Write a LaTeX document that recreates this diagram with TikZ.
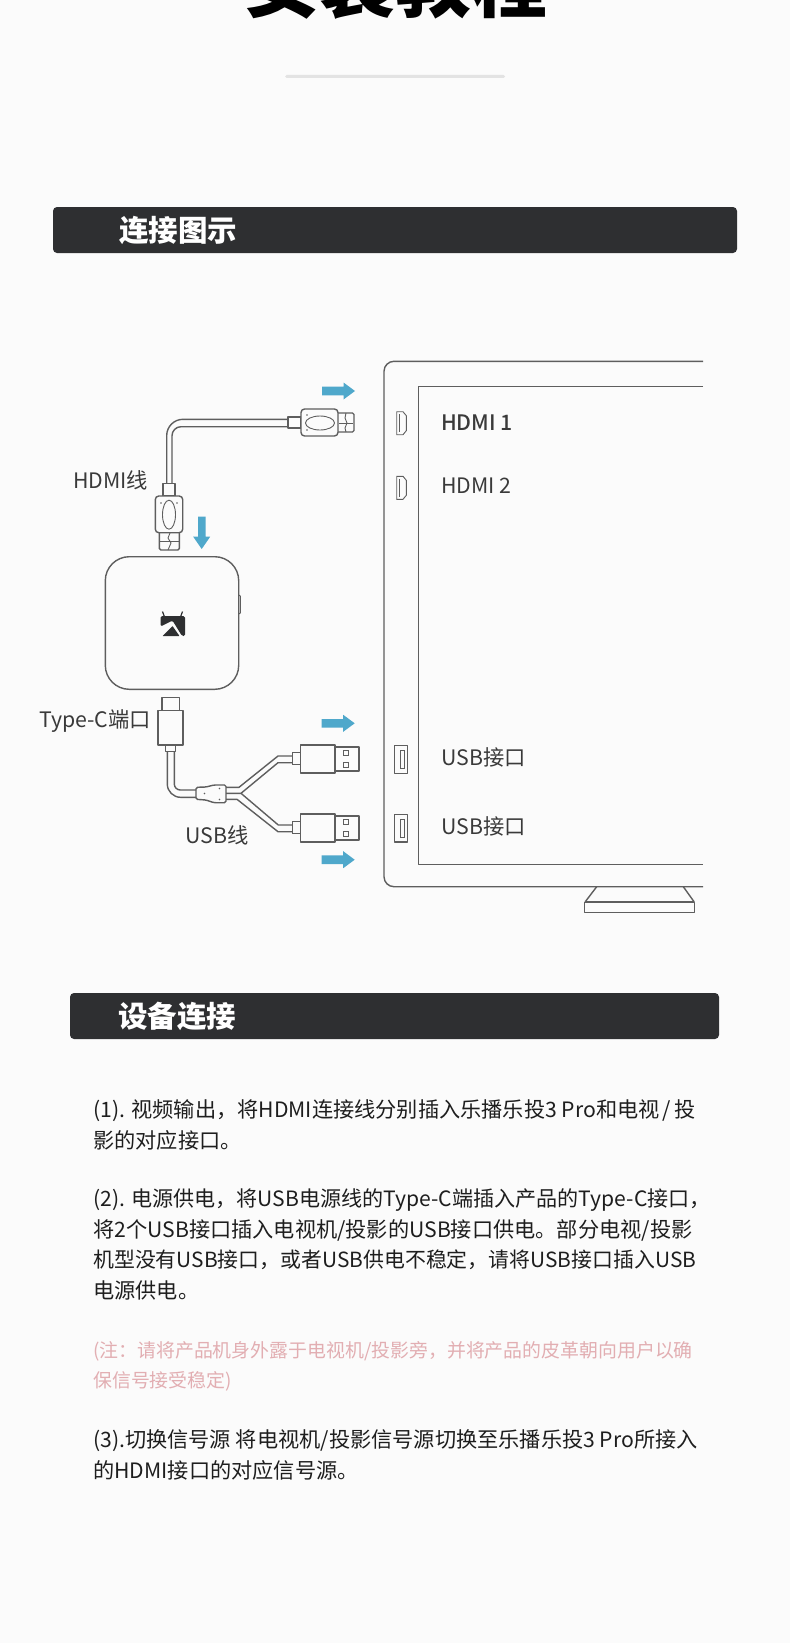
\documentclass[tikz,border=0pt]{standalone}
\usepackage{fontspec}
\setmainfont{Noto Sans CJK SC}
\newfontfamily\blk{Noto Sans CJK SC Black}
\newfontfamily\med{Noto Sans CJK SC Medium}
\definecolor{bgc}{HTML}{FBFBFB}
\definecolor{barc}{HTML}{2E2F31}
\definecolor{ln}{HTML}{5E5E5E}
\definecolor{txt}{HTML}{3A3A3A}
\definecolor{body}{HTML}{1E1E1E}
\definecolor{blu}{HTML}{4FA8CB}
\definecolor{pinkc}{HTML}{E2AEB2}
\definecolor{rulec}{HTML}{E3E3E3}
\newcommand{\fs}[1]{\fontsize{#1pt}{#1pt}\selectfont}
\tikzset{x=1pt,y=-1pt,
  wire/.style={draw=ln,line width=1.4pt,line join=round},
  thin wire/.style={draw=ln,line width=0.9pt},
  lab/.style={anchor=west,inner sep=0,text=txt,font=\fs{21.3}},
  para/.style={anchor=west,inner sep=0,text=body,font=\fs{21.2}},
  note/.style={anchor=west,inner sep=0,text=pinkc,font=\fs{18.9}},
  bar/.style={fill=barc,rounded corners=4pt,draw=none},
  flow/.style={fill=blu,draw=none}}
\newcommand{\arrowR}[2]{\fill[flow] (#1,#2-4.3)--(#1+21.5,#2-4.3)--(#1+21.5,#2-8.5)--(#1+33,#2)--(#1+21.5,#2+8.5)--(#1+21.5,#2+4.3)--(#1,#2+4.3)--cycle;}
\newcommand{\usbplug}[1]{%
  \draw[thin wire,fill=bgc] (292.7,#1-11.5) rectangle (300.7,#1);
  \draw[wire] (335,#1-17) rectangle (359,#1+7);
  \draw[wire,fill=bgc] (300.7,#1-19) rectangle (335,#1+9);
  \draw[thin wire] (343.5,#1-14) rectangle (348.5,#1-9);
  \draw[thin wire] (343.5,#1-2) rectangle (348.5,#1+3);}
\newcommand{\hdmiport}[1]{%
  \draw[thin wire] (396.7,#1) -- (403,#1) -- (406.3,#1+4) -- (406.3,#1+19) -- (403,#1+23) -- (396.7,#1+23) -- cycle;
  \draw[thin wire] (399.5,#1+2.5) -- (399.5,#1+20.5);}
\newcommand{\usbport}[1]{%
  \draw[wire] (394.7,#1) rectangle (407.7,#1+27.5);
  \draw[thin wire] (400,#1+5) rectangle (404.7,#1+23);}
\begin{document}
\begin{tikzpicture}
\useasboundingbox (0,0) rectangle (790,1643);
\clip (0,0) rectangle (790,1643);
\fill[bgc] (0,0) rectangle (790,1643);
% title
\node[anchor=center,inner sep=0,text=black] (title) at (395,-17) {\blk\fs{76}安装教程};
\fill[rulec,rounded corners=1.5pt] (285,75) rectangle (505,78);
% bars
\fill[bar] (53,207) rectangle (737,253);
\node[anchor=west,inner sep=0,text=white,font=\bfseries\fs{29.5}] (h1) at (119,230) {连接图示};
\fill[bar] (70,993) rectangle (719,1039);
\node[anchor=west,inner sep=0,text=white,font=\bfseries\fs{29.5}] (h2) at (118,1016) {设备连接};
% arrows
\arrowR{322}{391}
\arrowR{321.7}{723.3}
\arrowR{321.7}{859.7}
\fill[flow] (198,516.7)--(205.5,516.7)--(205.5,536.7)--(210.2,536.7)--(201.7,549)--(193.2,536.7)--(198,536.7)--cycle;
% HDMI cable
\draw[wire] (288,419.3) -- (183,419.3) arc[start angle=270,end angle=180,radius=16.3] -- (166.7,483.7);
\draw[wire] (288,426.7) -- (181,426.7) arc[start angle=270,end angle=180,radius=9] -- (172,483.7);
\draw[wire,fill=bgc] (288,417) rectangle (301,428);
\draw[wire,rounded corners=1.5pt] (338,413) -- (354,413) -- (354,432) -- (338,432);
\draw[wire,fill=bgc,rounded corners=3.5pt] (301,409) rectangle (338,436);
\draw[thin wire] (320,423) ellipse[x radius=14.5,y radius=7];
\draw[thin wire] (346,413) -- (345,418) -- (347,423) -- (345,428) -- (346,432);
\draw[thin wire] (339,423) -- (353,423);
\fill[ln] (307,415) circle(.8) (307,430) circle(.8);
% HDMI lower plug
\draw[wire,fill=bgc] (163,483.7) rectangle (175,496);
\draw[wire,rounded corners=1.5pt] (159.3,532.7) -- (159.3,550) -- (179.3,550) -- (179.3,532.7);
\draw[wire,fill=bgc,rounded corners=3.5pt] (155.3,496) rectangle (182.7,532.7);
\draw[thin wire] (169,514.7) ellipse[x radius=6.5,y radius=14.5];
\draw[thin wire] (170,533) -- (168,538) -- (171,543) -- (168,550);
\draw[thin wire] (160,541) -- (179,541);
\fill[ln] (161,503) circle(.8) (177,503) circle(.8);
% box
\draw[wire,rounded corners=24pt] (105.3,556.7) rectangle (238.7,689.3);
\draw[thin wire] (238.7,595) -- (240.3,596) -- (240.3,613) -- (238.7,614);
% logo
\draw[barc,line width=1.2pt] (164.5,617) -- (162.5,611.5) (180.5,617) -- (182.5,611.5);
\fill[barc,rounded corners=1.5pt] (160.5,626.5) -- (160.5,616) -- (185,616) -- (185,636) -- (182,636) -- (172.5,620.5) -- cycle;
\fill[barc,rounded corners=.5pt] (172.5,626) -- (179.5,636) -- (162.5,636) -- cycle;
% Type-C
\draw[wire] (162,697.3) rectangle (179.3,710.7);
\draw[wire] (158,710.7) rectangle (183,745);
\draw[wire] (165.7,745) rectangle (175.3,751.7);
\draw[wire] (167.3,751.7) -- (167.3,784) arc[start angle=180,end angle=90,radius=13.3] -- (196,797.3);
\draw[wire] (174.3,751.7) -- (174.3,784) arc[start angle=180,end angle=90,radius=6] -- (196,790);
% junction
\draw[wire,rounded corners=1.5pt] (196,787.3) -- (206,787) -- (214,785) -- (226,785) -- (226,802.7) -- (214,802.7) -- (206,800) -- (196,799.3) -- cycle;
\fill[ln] (204.5,793.5) circle(.9) (219.5,788.5) circle(.9) (219.5,799.5) circle(.9);
% branches
\draw[wire] (226,787.3) -- (239,787.3) -- (278,756) -- (292.7,756);
\draw[wire] (226,793.3) -- (241,793.3) -- (278,762.7) -- (292.7,762.7);
\draw[wire] (241,793.3) -- (278.3,825) -- (292.7,825);
\draw[wire] (226,799.3) -- (237,799.3) -- (278,831.7) -- (292.7,831.7);
\usbplug{764}
\usbplug{833}
% monitor
\draw[wire,rounded corners=10pt] (703,361.3) -- (384,361.3) -- (384,886.7) -- (703,886.7);
\draw[wire] (703,386.3) -- (418.3,386.3) -- (418.3,864.7) -- (703,864.7);
\draw[wire] (596.7,886.7) -- (585.3,901.7) -- (694,901.7) -- (683.3,886.7);
\draw[wire] (584.7,902.3) rectangle (694.7,912.3);
\hdmiport{411.7}
\hdmiport{476.3}
\usbport{745.7}
\usbport{814.3}
% labels
\node[lab,font=\med\fs{21.3}] (l1) at (441,423) {HDMI 1};
\node[lab] (l2) at (441,486) {HDMI 2};
\node[lab] (l3) at (441,757) {USB接口};
\node[lab] (l4) at (441,826) {USB接口};
\node[lab] (l5) at (73,480) {HDMI线};
\node[lab] (l6) at (39,721.5) {Type-C端口};
\node[lab] (l7) at (185,835) {USB线};
% body
\node[para] (p1) at (93,1110.5) {(1). 视频输出，将HDMI连接线分别插入乐播乐投3 Pro和电视\kern3pt/\kern3pt 投};
\node[para] (p2) at (93,1140) {影的对应接口。};
\node[para,font=\fs{21.1}] (p3) at (93,1200.5) {(2). 电源供电，将USB电源线的Type-C端插入产品的Type-C接口，};
\node[para] (p4) at (93,1230.5) {将2个USB接口插入电视机/投影的USB接口供电。部分电视/投影};
\node[para,font=\fs{20.9}] (p5) at (93,1260) {机型没有USB接口，或者USB供电不稳定，请将USB接口插入USB};
\node[para] (p6) at (93,1290) {电源供电。};
\node[note] (p7) at (93,1351) {(注：请将产品机身外露于电视机/投影旁，并将产品的皮革朝向用户以确};
\node[note] (p8) at (93,1381) {保信号接受稳定)};
\node[para] (p9) at (93,1440.5) {(3).切换信号源 将电视机/投影信号源切换至乐播乐投3 Pro所接入};
\node[para] (p10) at (93,1470) {的HDMI接口的对应信号源。};
\end{tikzpicture}
\end{document}
